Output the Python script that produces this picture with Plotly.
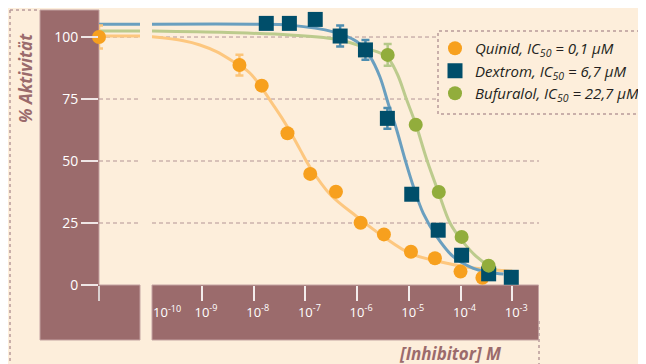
import plotly.graph_objects as go

# page body has an 8px default margin: the figure is sized to fit the window
OFF = 8
W, H = 646 - OFF, 364 - OFF
BG = "#fdeedb"
MAUVE = "#9b6b6c"
GRID = "#b39495"

# ---------------- data ----------------
series_names = ["Quinid", "Dextrom", "Bufuralol"]
ic50_labels = ["0,1 μM", "6,7 μM", "22,7 μM"]

# inhibitor concentrations (M) and % activity
quinid_conc = [5.3e-9, 1.43e-8, 4.5e-8, 1.24e-7, 3.9e-7, 1.17e-6, 3.3e-6, 1.1e-5, 3.2e-5, 1.0e-4, 2.65e-4]
quinid_act = [88.7, 80.4, 61.2, 44.8, 37.6, 25.1, 20.4, 13.4, 10.8, 5.4, 2.9]
quinid_err = [4.2, 0, 0, 0, 0, 0, 0, 0, 0, 0, 0]

dextrom_conc = [1.75e-8, 4.9e-8, 1.55e-7, 4.7e-7, 1.45e-6, 3.85e-6, 1.14e-5, 3.7e-5, 1.05e-4, 3.5e-4, 9.6e-4]
dextrom_act = [105.5, 105.5, 107.1, 100.4, 94.8, 67.2, 36.6, 22.1, 12.0, 4.5, 3.1]
dextrom_err = [0, 0, 0, 4.2, 4.0, 4.2, 0, 0, 0, 0, 0]

bufuralol_conc = [3.9e-6, 1.36e-5, 3.8e-5, 1.05e-4, 3.5e-4]
bufuralol_act = [92.8, 64.6, 37.5, 19.4, 7.8]
bufuralol_err = [4.4, 0, 0, 0, 0]

# control (no inhibitor)
control_act = [100.0]
control_err = [4.6]

# fitted curves (log10 of concentration, % activity)
quinid_fit_log = [-9.97, -9.36, -9.04, -8.72, -8.39, -8.07, -7.59, -7.34, -7.10, -6.91, -6.52, -6.0, -5.49, -4.98, -4.40, -3.82, -3.17, -3.0]
quinid_fit_act = [100.1, 98.5, 96.8, 94.1, 90.0, 85.4, 71.6, 63.5, 54.5, 47.5, 36.5, 27.5, 19.5, 12.8, 9.4, 7.1, 5.8, 5.6]
dextrom_fit_log = [-9.97, -8.0, -7.30, -6.46, -6.0, -5.75, -5.56, -5.40, -5.234, -5.07, -4.91, -4.72, -4.46, -4.14, -3.75, -3.43, -3.17]
dextrom_fit_act = [105.2, 105.2, 104.8, 102.1, 98.1, 92.1, 84.0, 73.3, 62.5, 50.4, 39.6, 28.9, 19.5, 11.4, 6.7, 5.0, 4.4]
bufuralol_fit_log = [-9.97, -8.5, -7.30, -6.33, -5.81, -5.43, -5.23, -5.04, -4.86, -4.65, -4.43, -4.20, -3.98, -3.69, -3.43, -3.30]
bufuralol_fit_act = [102.4, 101.8, 100.8, 98.8, 95.4, 92.1, 85.4, 74.6, 64.5, 50.4, 37.6, 24.9, 18.1, 11.4, 7.4, 6.0]
fit_left_level = [100.4, 105.2, 102.4]

y_ticks = [0, 25, 50, 75, 100]
y_grid = [25, 50, 75, 100]
x_tickvals = [1e-10, 1e-9, 1e-8, 1e-7, 1e-6, 1e-5, 1e-4, 1e-3]
x_ticktext = ["10<sup>-10</sup>", "10<sup>-9</sup>", "10<sup>-8</sup>", "10<sup>-7</sup>",
              "10<sup>-6</sup>", "10<sup>-5</sup>", "10<sup>-4</sup>", "10<sup>-3</sup>"]

marker_colors = ["#f7a01e", "#004e6a", "#92ad3c"]
line_colors = ["#fdc77f", "#6a9fbf", "#bccb8d"]
err_colors = ["#fcc57a", "#4d8db0", "#b6c98a"]
symbols = ["circle", "square", "circle"]
sizes = [14, 15, 14]

# ---------------- figure ----------------
def px_x(p):
    return (p - OFF) / W

def px_y(p):
    return 1 - (p - OFF) / H

fig = go.Figure()

fits = [(quinid_fit_log, quinid_fit_act), (dextrom_fit_log, dextrom_fit_act), (bufuralol_fit_log, bufuralol_fit_act)]
for i in [0, 2, 1]:
    lg, act = fits[i]
    fig.add_trace(go.Scatter(x=[10 ** v for v in lg], y=act, xaxis="x2", yaxis="y", mode="lines",
                             line=dict(color=line_colors[i], width=3, shape="spline", smoothing=1.0),
                             showlegend=False, hoverinfo="skip"))
    fig.add_trace(go.Scatter(x=[0, 1], y=[fit_left_level[i]] * 2, xaxis="x", yaxis="y", mode="lines",
                             line=dict(color=line_colors[i], width=3), showlegend=False, hoverinfo="skip"))

data = [(quinid_conc, quinid_act, quinid_err), (dextrom_conc, dextrom_act, dextrom_err),
        (bufuralol_conc, bufuralol_act, bufuralol_err)]

# control point
fig.add_trace(go.Scatter(x=[0], y=control_act, xaxis="x", yaxis="y", mode="markers",
                         marker=dict(color=marker_colors[0], size=sizes[0], symbol=symbols[0]),
                         error_y=dict(type="data", array=control_err, color=err_colors[0], thickness=2.5, width=4),
                         cliponaxis=False, showlegend=False))

for i in range(3):
    c, a, e = data[i]
    fig.add_trace(go.Scatter(
        x=c, y=a, xaxis="x2", yaxis="y", mode="markers",
        name=f"<i>{series_names[i]}, IC<sub>50</sub> = {ic50_labels[i]}</i>",
        marker=dict(color=marker_colors[i], size=sizes[i], symbol=symbols[i]),
        error_y=dict(type="data", array=e, color=err_colors[i], thickness=2.5, width=4),
        cliponaxis=False))

shapes = []
# mauve frame (L shape) and right bottom band
path = (f"M{px_x(40)},{px_y(10)} L{px_x(99)},{px_y(10)} L{px_x(99)},{px_y(285)} "
        f"L{px_x(140)},{px_y(285)} L{px_x(140)},{px_y(340)} L{px_x(40)},{px_y(340)} Z")
shapes.append(dict(type="path", xref="paper", yref="paper", path=path, fillcolor=MAUVE,
                   line=dict(color="#c4a3a2", width=1), layer="below"))
shapes.append(dict(type="rect", xref="paper", yref="paper", x0=px_x(152), x1=px_x(538.5),
                   y0=px_y(340), y1=px_y(285), fillcolor=MAUVE, line=dict(color="#c4a3a2", width=1), layer="below"))
# outer dotted frame pieces
dot = dict(color="#b89a9a", width=1.5, dash="dot")
shapes.append(dict(type="line", xref="paper", yref="paper", x0=px_x(10), x1=px_x(10), y0=px_y(10), y1=px_y(370), line=dot, layer="below"))
shapes.append(dict(type="line", xref="paper", yref="paper", x0=px_x(10), x1=px_x(40), y0=px_y(10), y1=px_y(10), line=dot, layer="below"))
shapes.append(dict(type="line", xref="paper", yref="paper", x0=px_x(539), x1=px_x(539), y0=px_y(321), y1=px_y(370), line=dot, layer="below"))
# gridlines
for gv in y_grid:
    for xr in ["x domain", "x2 domain"]:
        shapes.append(dict(type="line", xref=xr, yref="y", x0=0, x1=1, y0=gv, y1=gv,
                           line=dict(color=GRID, width=1, dash="4px,3px"), layer="below"))
# legend box, open to the right edge
lx0, lx1, ly0, ly1 = px_x(438), px_x(700), px_y(31), px_y(114)
shapes.append(dict(type="rect", xref="paper", yref="paper", x0=lx0, x1=lx1, y0=ly1, y1=ly0,
                   fillcolor=BG, line=dict(width=0), layer="above"))
shapes.append(dict(type="path", xref="paper", yref="paper",
                   path=f"M{lx1},{ly0} L{lx0},{ly0} L{lx0},{ly1} L{lx1},{ly1}",
                   line=dict(color="#b89a9a", width=1.5, dash="dot"), layer="above"))

annotations = [
    dict(text="<b><i>% Aktivität</i></b>", xref="paper", yref="paper", x=px_x(25), y=px_y(78),
         textangle=-90, showarrow=False, font=dict(size=17, color=MAUVE, family="Open Sans"),
         xanchor="center", yanchor="middle"),
    dict(text="<b><i>[Inhibitor] M</i></b>", xref="paper", yref="paper", x=px_x(504), y=px_y(353),
         showarrow=False, font=dict(size=17, color=MAUVE, family="Open Sans"),
         xanchor="right", yanchor="middle"),
    dict(text=x_ticktext[0], xref="paper", yref="paper", x=px_x(151), y=px_y(311),
         showarrow=False, font=dict(size=13, color="white", family="Open Sans"),
         xanchor="left", yanchor="middle"),
]

fig.update_layout(
    width=W, height=H, margin=dict(l=0, r=0, t=0, b=0, pad=0, autoexpand=False),
    paper_bgcolor=BG, plot_bgcolor="rgba(0,0,0,0)",
    font=dict(family="Open Sans", color="#231f20"),
    shapes=shapes, annotations=annotations,
    xaxis=dict(domain=[px_x(99), px_x(140)], range=[0, 1], anchor="y", showgrid=False, zeroline=False,
               showline=False, tickvals=[0], ticks="outside", ticklen=15, tickwidth=1.5, tickcolor="#d9cfcf",
               showticklabels=False, fixedrange=True, automargin=False),
    xaxis2=dict(domain=[px_x(152), px_x(539)], type="log", range=[-9.967, -2.482], anchor="y",
                showgrid=False, zeroline=False, showline=False, automargin=False,
                tickvals=x_tickvals[1:], ticktext=x_ticktext[1:], ticks="outside", ticklen=15, tickwidth=1.5,
                tickcolor="#f3ecec", tickfont=dict(size=13, color="white"), ticklabelshift=4),
    yaxis=dict(domain=[px_y(285), px_y(10)], range=[0, 110.9], anchor="x", showgrid=False, zeroline=False,
               showline=False, tickvals=y_ticks, ticks="outside", ticklen=17, tickwidth=1.5, automargin=False,
               tickcolor="#efe6e6", tickfont=dict(size=14, color="white")),
    legend=dict(x=px_x(435), y=px_y(32), xanchor="left", yanchor="top", bgcolor="rgba(0,0,0,0)",
                font=dict(size=15, color="#231f20", family="Open Sans"), tracegroupgap=0),
    showlegend=True,
)

fig.write_html("out.html")
